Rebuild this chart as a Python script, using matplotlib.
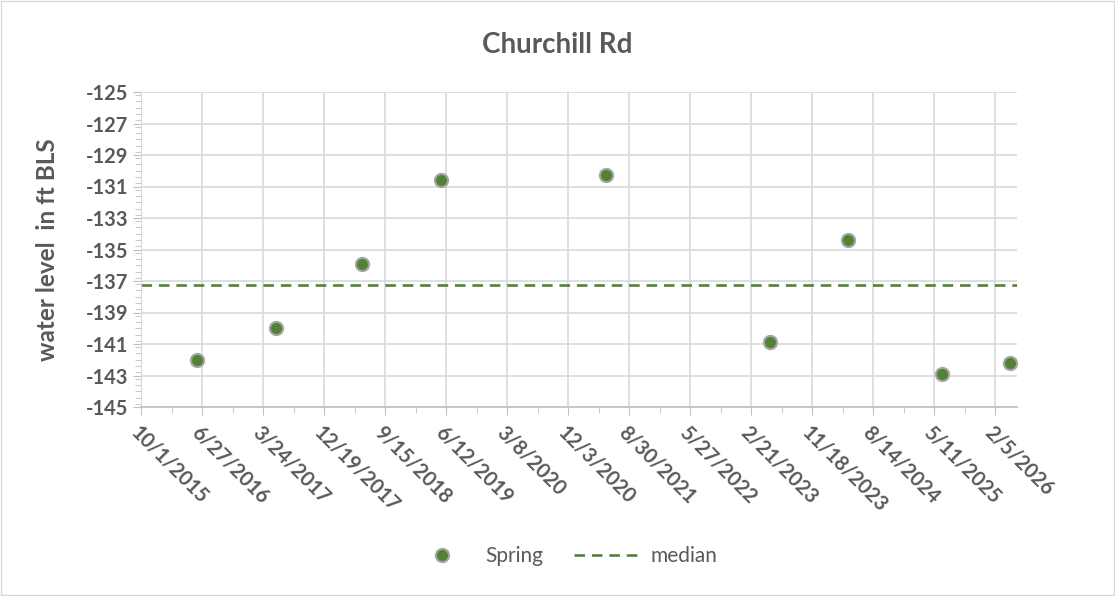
import matplotlib
matplotlib.use("Agg")
import matplotlib.pyplot as plt
import matplotlib.dates as mdates
from matplotlib.ticker import FixedLocator, MultipleLocator
from matplotlib.patches import Rectangle
from datetime import datetime

# data
sample_dates = ['2016-06-04', '2017-05-22', '2018-06-04', '2019-05-21', '2021-05-19',
                '2023-05-14', '2024-04-26', '2025-06-14', '2026-04-12']
levels = [-142.0, -140.0, -135.9, -130.6, -130.3, -140.9, -134.4, -142.9, -142.2]
median_level = -137.25

x_tick_labels = ['10/1/2015', '6/27/2016', '3/24/2017', '12/19/2017', '9/15/2018',
                 '6/12/2019', '3/8/2020', '12/3/2020', '8/30/2021', '5/27/2022',
                 '2/21/2023', '11/18/2023', '8/14/2024', '5/11/2025', '2/5/2026']
x_end = '2026-05-13'

green = '#548235'
txt = '#595959'
grid_c = '#D9D9D9'

plt.rcParams['font.family'] = ['Lato', 'DejaVu Sans']

xs = [mdates.date2num(datetime.strptime(d, '%Y-%m-%d')) for d in sample_dates]
tick_pos = [mdates.date2num(datetime.strptime(t, '%m/%d/%Y')) for t in x_tick_labels]
minor_pos = [(a + b) / 2 for a, b in zip(tick_pos[:-1], tick_pos[1:])]
minor_pos.append(tick_pos[-1] + (tick_pos[1] - tick_pos[0]) / 2)

fig = plt.figure(figsize=(11.15, 5.96), dpi=100)
ax = fig.add_axes([141 / 1115, 1 - 407 / 596, (1017 - 141) / 1115, (407 - 92) / 596])

ax.plot(xs, levels, linestyle='none', marker='o', markersize=9.5,
        markerfacecolor=green, markeredgecolor='#A5A5A5', markeredgewidth=1.5,
        label='Spring', zorder=3)
ax.axhline(median_level, color=green, linestyle=(0, (4, 2.6)), linewidth=1.9,
           label='median', zorder=2)

ax.set_xlim(tick_pos[0], mdates.date2num(datetime.strptime(x_end, '%Y-%m-%d')))
ax.set_ylim(-145, -125)

ax.xaxis.set_major_locator(FixedLocator(tick_pos))
ax.xaxis.set_minor_locator(FixedLocator(minor_pos))
ax.set_xticklabels(x_tick_labels, rotation=-45, ha='left', va='top',
                   rotation_mode='anchor', fontsize=14.5, fontweight='bold', color=txt)
ax.yaxis.set_minor_locator(MultipleLocator(0.4))
ax.set_yticks(range(-145, -124, 2))
ax.set_yticklabels([str(v) for v in range(-145, -124, 2)], fontsize=14.5,
                   fontweight='bold', color=txt)

ax.tick_params(axis='x', which='major', length=6, color='#BFBFBF', pad=5)
ax.tick_params(axis='x', which='minor', length=4, color='#BFBFBF')
ax.tick_params(axis='y', which='major', length=6, color='#BFBFBF', pad=3)
ax.tick_params(axis='y', which='minor', length=4, color='#BFBFBF')

ax.grid(True, which='major', color=grid_c, linewidth=1.2)
ax.set_axisbelow(True)
for s in ['top', 'right']:
    ax.spines[s].set_visible(False)
ax.spines['left'].set_color(grid_c)
ax.spines['bottom'].set_color('#BFBFBF')
ax.spines['bottom'].set_linewidth(1.2)

ax.set_ylabel('water level  in ft BLS', fontsize=17.5, fontweight='bold', color=txt,
              va='center')
ax.yaxis.set_label_coords((48 - 141) / (1017 - 141), 0.5)
fig.text(0.5, 1 - 45 / 596, 'Churchill Rd', ha='center', va='center',
         fontsize=20, fontweight='bold', color=txt)

fig.legend(loc='center', bbox_to_anchor=(0.505, 1 - 556 / 596), ncol=2,
           frameon=False, fontsize=15, labelcolor=txt, handlelength=3.2,
           columnspacing=1.5, handletextpad=0.45)

fig.patches.append(Rectangle((0.001, 0.001), 0.998, 0.997, transform=fig.transFigure,
                             fill=False, edgecolor=grid_c, linewidth=1))

fig.savefig('out.png', dpi=100)
